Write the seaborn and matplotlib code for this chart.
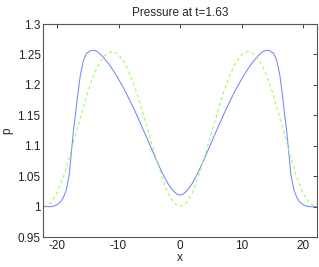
import numpy as np
import pandas as pd
import seaborn as sns
import matplotlib
matplotlib.use('Agg')
import matplotlib.pyplot as plt

# values (left half, curve is symmetric about x=0)
x_blue_left = [-22.2, -21, -20.5, -20, -19.5, -19, -18.5, -18, -17.6, -17.3, -17.0,
               -16.6, -16.2, -15.7, -15.2, -14.6, -14.0, -13.4, -12.6, -11.5, -10.3,
               -9, -7.6, -6.2, -5, -4, -3, -2, -1.5, -1, -0.5, 0]
p_blue_left = [1.000, 1.000, 1.001, 1.003, 1.007, 1.014, 1.027, 1.052, 1.095, 1.126, 1.150,
               1.185, 1.216, 1.240, 1.252, 1.256, 1.257, 1.2545, 1.247, 1.2335, 1.215,
               1.1915, 1.163, 1.1315, 1.1035, 1.080, 1.0575, 1.0385, 1.031, 1.025, 1.0205, 1.019]

x_green_left = [-22.2, -21, -20, -19, -18, -17, -16, -15, -14, -13, -12, -11,
                -10, -9, -8, -7, -6, -5, -4, -3, -2, -1, 0]
p_green_left = [1.000, 1.006, 1.022, 1.047, 1.080, 1.117, 1.153, 1.188, 1.217, 1.238, 1.251, 1.255,
                1.250, 1.236, 1.214, 1.186, 1.153, 1.118, 1.083, 1.050, 1.023, 1.006, 1.000]

# mirror to the right half
x_blue = x_blue_left + [-v for v in x_blue_left[-2::-1]]
p_blue = p_blue_left + p_blue_left[-2::-1]
x_green = x_green_left + [-v for v in x_green_left[-2::-1]]
p_green = p_green_left + p_green_left[-2::-1]

y_ticks = [0.95, 1, 1.05, 1.1, 1.15, 1.2, 1.25, 1.3]
y_labels = ['0.95', '1', '1.05', '1.1', '1.15', '1.2', '1.25', '1.3']
x_ticks = [-20, -10, 0, 10, 20]

sns.set_style('white')
plt.rcParams['font.family'] = ['Liberation Sans', 'DejaVu Sans']

fig = plt.figure(figsize=(3.19, 2.67), dpi=100)
ax = fig.add_axes([0.136, 0.112, 0.857, 0.798])

df_b = pd.DataFrame({'x': x_blue, 'p': p_blue})
df_g = pd.DataFrame({'x': x_green, 'p': p_green})
sns.lineplot(data=df_b, x='x', y='p', ax=ax, color='#7585ff', lw=0.75, sort=False)
sns.lineplot(data=df_g, x='x', y='p', ax=ax, color='#99ff55', lw=0.8, sort=False,
             linestyle=(0, (3, 2.5)))

ax.set_xlim(-22.2, 22.2)
ax.set_ylim(0.95, 1.3)
ax.set_xticks(x_ticks)
ax.set_xticklabels([str(v) for v in x_ticks])
ax.set_yticks(y_ticks)
ax.set_yticklabels(y_labels)
ax.tick_params(direction='in', length=3, width=0.6, labelsize=8.5, colors='#222222',
               top=True, right=True, pad=2)
for s in ax.spines.values():
    s.set_color('#555555')
    s.set_linewidth(0.8)
ax.set_title('Pressure at t=1.63', fontsize=8.5, pad=6)
ax.set_xlabel('x', fontsize=8.5, labelpad=0)
ax.set_ylabel('p', fontsize=8.5, labelpad=3)

fig.savefig('out.png', dpi=100)
